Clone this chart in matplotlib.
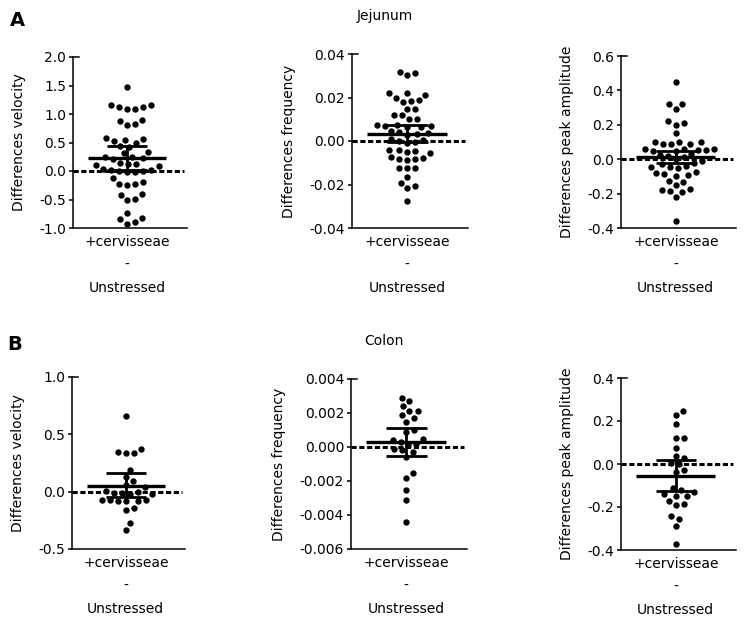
import matplotlib
matplotlib.use('Agg')
import matplotlib.pyplot as plt
import numpy as np

plt.rcParams['font.family'] = 'DejaVu Sans'
plt.rcParams['axes.unicode_minus'] = False

# values (differences, stressed+cervisseae minus unstressed)
jej_velocity = [1.48, 1.16, 1.12, 1.08, 1.09, 1.12, 1.16, 0.89, 0.81, 0.82, 0.88,
                0.58, 0.54, 0.53, 0.49, 0.56, 0.43, 0.31, 0.33, 0.42, 0.25, 0.22,
                0.21, 0.24, 0.13, 0.14, 0.10, 0.08, 0.12, 0.03, 0.01, 0.0, -0.01,
                0.02, -0.02, 0.0, -0.13, -0.19, -0.23, -0.24, -0.22, -0.42, -0.51,
                -0.49, -0.40, -0.73, -0.85, -0.93, -0.90, -0.83]
jej_frequency = [0.0316, 0.0303, 0.0314, 0.0219, 0.0196, 0.0189, 0.0211, 0.0220,
                 0.0178, 0.0182, 0.0147, 0.0148, 0.0120, 0.0101, 0.0103, 0.0118,
                 0.0068, 0.0072, 0.0066, 0.0075, 0.0070, 0.0065, 0.0040, 0.0032,
                 0.0036, 0.0028, 0.0045, 0.0008, 0.0002, -0.0004, 0.0005, -0.0010,
                 -0.0040, -0.0046, -0.0042, -0.0055, -0.0050, -0.0078, -0.0085,
                 -0.0082, -0.0075, -0.0088, -0.0124, -0.0122, -0.0126, -0.0164,
                 -0.0205, -0.0192, -0.0218, -0.0278]
jej_amplitude = [0.45, 0.32, 0.29, 0.32, 0.22, 0.20, 0.21, 0.15, 0.10, 0.09, 0.09,
                 0.10, 0.09, 0.10, 0.06, 0.055, 0.05, 0.06, 0.05, 0.06, 0.055,
                 0.03, 0.02, 0.025, 0.0, 0.01, -0.01, -0.02, -0.03, -0.045,
                 -0.04, -0.045, -0.05, -0.08, -0.09, -0.095, -0.085, -0.075,
                 -0.13, -0.15, -0.125, -0.18, -0.19, -0.175, -0.185, -0.22, -0.36]
col_velocity = [0.66, 0.37, 0.34, 0.34, 0.35, 0.19, 0.13, 0.09, 0.06, 0.04, 0.01,
                -0.01, -0.02, 0.0, -0.01, -0.02, -0.07, -0.08, -0.07, -0.08, -0.08,
                -0.07, -0.14, -0.16, -0.27, -0.33]
col_frequency = [0.0029, 0.0027, 0.0021, 0.0024, 0.0021, 0.0017, 0.0019, 0.0015,
                 0.0009, 0.0010, 0.0004, 0.0005, 0.0003, 0.0002, 0.0001, -0.0001,
                 -0.0002, -0.0003, -0.0006, -0.0015, -0.0018, -0.0025, -0.0031,
                 -0.0044]
col_amplitude = [0.246, 0.228, 0.185, 0.12, 0.12, 0.076, 0.035, 0.03, 0.005, 0.0,
                 -0.03, -0.035, -0.11, -0.12, -0.13, -0.14, -0.15, -0.15, -0.17,
                 -0.185, -0.19, -0.24, -0.255, -0.29, -0.37]

# mean line and error bar ends as drawn in the reference
means = [0.22, 0.0034, 0.015, 0.05, 0.0003, -0.055]
err_hi = [0.43, 0.0073, 0.05, 0.16, 0.00112, 0.018]
err_lo = [0.02, -0.0005, -0.02, -0.05, -0.00052, -0.125]

ylabels = ['Differences velocity', 'Differences frequency', 'Differences peak amplitude']
ylims = [(-1.0, 2.0), (-0.04, 0.04), (-0.4, 0.6), (-0.5, 1.0), (-0.006, 0.004), (-0.4, 0.4)]
ysteps = [0.5, 0.02, 0.2, 0.5, 0.002, 0.2]
yfmts = ['%.1f', '%.2f', '%.1f', '%.1f', '%.3f', '%.1f']
xticklabel = '+cervisseae\n-\nUnstressed'

series = [jej_velocity, jej_frequency, jej_amplitude, col_velocity, col_frequency, col_amplitude]

W, H = 747, 624
fig = plt.figure(figsize=(W / 100, H / 100), dpi=100)

# axes boxes in pixels: left, right, top, bottom
boxes = [(73, 187, 57, 228), (352, 468, 54, 228), (621, 736, 56, 228),
         (72, 185, 377, 549), (351, 467, 379, 549), (621, 736, 378, 550)]


def swarm(ypix, d):
    order = np.argsort(ypix)
    placed = []
    xs = np.zeros(len(ypix))
    for i in order:
        y = ypix[i]
        for k in range(400):
            found = None
            for sgn in (1, -1):
                x = sgn * k * 0.5
                if all((x - px) ** 2 + (y - py) ** 2 >= d * d for px, py in placed):
                    found = x
                    break
            if found is not None:
                break
        xs[i] = found
        placed.append((found, y))
    return xs


for i, vals in enumerate(series):
    l, r, t, b = boxes[i]
    ax = fig.add_axes([l / W, 1 - b / H, (r - l) / W, (b - t) / H])
    ax.set_xlim(-1.0, 1.1)
    ax.set_ylim(*ylims[i])
    for s in ['top', 'right']:
        ax.spines[s].set_visible(False)
    for s in ['left', 'bottom']:
        ax.spines[s].set_linewidth(1.1)

    vals = np.array(vals)
    ypix = ax.transData.transform(np.column_stack([np.zeros(len(vals)), vals]))[:, 1]
    xoff = swarm(ypix, 8.0)
    xs = xoff * 2.1 / (r - l)
    ax.scatter(xs, vals, s=21, color='black', linewidths=0, zorder=3)

    ax.axhline(0, xmin=0, xmax=0.97, color='black', lw=2.2,
               linestyle=(0, (1.7, 0.85)), zorder=5)
    ax.hlines(means[i], -0.72, 0.72, color='black', lw=2.4, zorder=4)
    ax.hlines([err_hi[i], err_lo[i]], -0.37, 0.37, color='black', lw=2.0, zorder=4)
    ax.vlines(0, err_lo[i], err_hi[i], color='black', lw=2.0, zorder=4)

    lo, hi = ylims[i]
    ticks = np.arange(lo, hi + ysteps[i] / 2, ysteps[i])
    ax.set_yticks(ticks)
    ax.set_yticklabels([yfmts[i] % v if abs(v) > 1e-12 else yfmts[i] % 0 for v in ticks])
    ax.tick_params(axis='y', length=3, width=1.1, labelsize=10, pad=2)
    ax.plot([0, 0.05], [1, 1], transform=ax.transAxes, color='black', lw=1.1, clip_on=False)

    ax.set_xticks([0])
    ax.set_xticklabels([xticklabel], linespacing=1.8)
    ax.tick_params(axis='x', length=0, labelsize=10, pad=5)
    ax.set_ylabel(ylabels[i % 3], fontsize=10, labelpad=9.5)

fig.text(17 / W, 1 - 20 / H, 'A', fontsize=14, fontweight='bold', ha='center', va='center')
fig.text(15 / W, 1 - 345 / H, 'B', fontsize=14, fontweight='bold', ha='center', va='center')
fig.text(385 / W, 1 - 16 / H, 'Jejunum', fontsize=10, ha='center', va='center')
fig.text(384 / W, 1 - 341 / H, 'Colon', fontsize=10, ha='center', va='center')

fig.savefig('out.png', dpi=100)
